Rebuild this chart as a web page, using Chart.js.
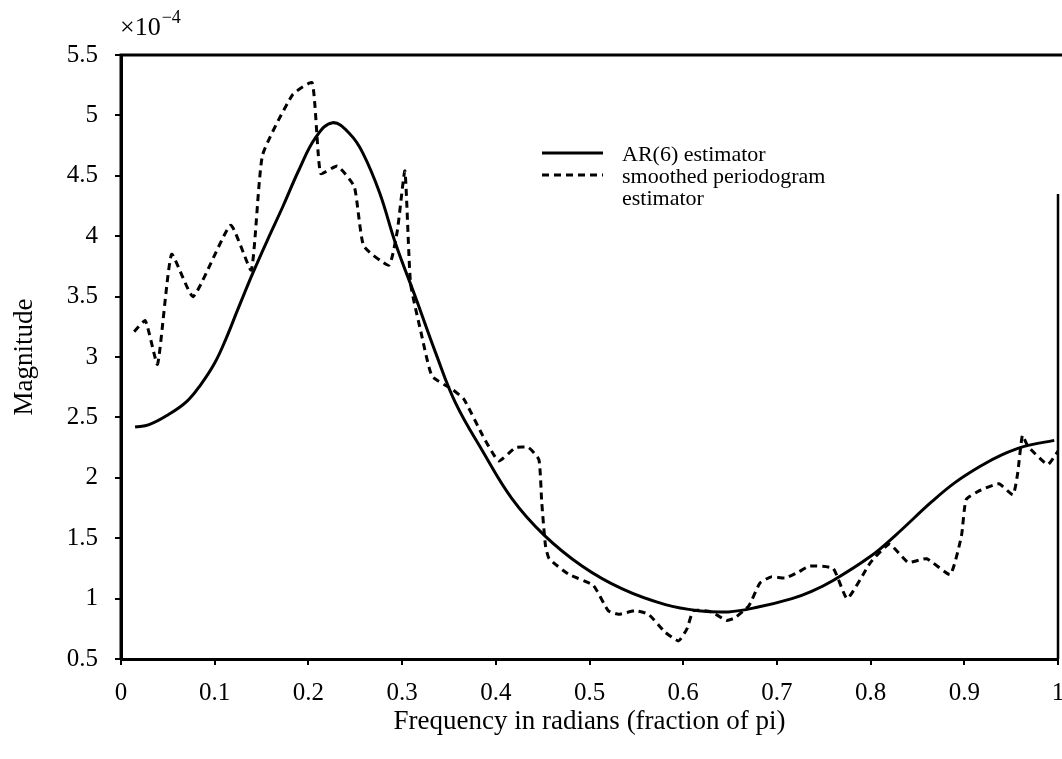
<!DOCTYPE html>
<html>
<head>
<meta charset="utf-8">
<script src="https://cdn.jsdelivr.net/npm/chart.js@4/dist/chart.umd.min.js"></script>
<style>
  html, body { margin: 0; padding: 0; background: #fff; }
  #wrap { width: 1062px; height: 759px; }
</style>
</head>
<body>
<div id="wrap"><canvas id="chart" width="1062" height="759"></canvas></div>
<script>
// --- DATA (magnitude in units of 1e-4) ---
const arX = [0.015, 0.03, 0.05, 0.07, 0.085, 0.1, 0.112, 0.125, 0.141, 0.157, 0.173, 0.19, 0.208, 0.226, 0.245, 0.258, 0.276, 0.293, 0.315, 0.336, 0.357, 0.386, 0.417, 0.451, 0.492, 0.535, 0.581, 0.616, 0.648, 0.68, 0.716, 0.737, 0.76, 0.8, 0.826, 0.865, 0.89, 0.918, 0.94, 0.964, 0.996];
const arY = [2.42, 2.44, 2.52, 2.63, 2.77, 2.95, 3.15, 3.4, 3.7, 3.98, 4.25, 4.55, 4.82, 4.94, 4.84, 4.69, 4.36, 3.94, 3.48, 3.03, 2.62, 2.22, 1.83, 1.53, 1.27, 1.08, 0.95, 0.9, 0.89, 0.93, 1.0, 1.06, 1.15, 1.35, 1.52, 1.8, 1.96, 2.1, 2.19, 2.26, 2.31];

const pgX = [0.014, 0.026, 0.039, 0.054, 0.077, 0.117, 0.139, 0.151, 0.183, 0.204, 0.213, 0.231, 0.249, 0.259, 0.286, 0.295, 0.303, 0.309, 0.32, 0.332, 0.354, 0.366, 0.386, 0.403, 0.421, 0.435, 0.446, 0.449, 0.453, 0.457, 0.478, 0.504, 0.52, 0.531, 0.549, 0.563, 0.581, 0.595, 0.604, 0.611, 0.63, 0.646, 0.655, 0.67, 0.682, 0.694, 0.709, 0.723, 0.735, 0.76, 0.775, 0.8, 0.82, 0.84, 0.86, 0.885, 0.897, 0.902, 0.918, 0.937, 0.952, 0.957, 0.962, 0.968, 0.989, 1.0];
const pgY = [3.21, 3.3, 2.94, 3.85, 3.5, 4.09, 3.72, 4.67, 5.17, 5.27, 4.52, 4.58, 4.41, 3.92, 3.76, 4.05, 4.54, 3.61, 3.21, 2.84, 2.73, 2.65, 2.35, 2.14, 2.25, 2.25, 2.15, 1.8, 1.44, 1.33, 1.2, 1.11, 0.9, 0.87, 0.9, 0.87, 0.72, 0.65, 0.75, 0.9, 0.89, 0.82, 0.84, 0.94, 1.13, 1.18, 1.17, 1.22, 1.27, 1.25, 1.0, 1.3, 1.45, 1.3, 1.33, 1.2, 1.52, 1.82, 1.9, 1.95, 1.86, 2.04, 2.35, 2.26, 2.11, 2.22];

const legendLabels = [['AR(6) estimator'], ['smoothed periodogram', 'estimator']];
const xTitle = 'Frequency in radians (fraction of pi)';
const yTitle = 'Magnitude';

const SERIF = '"Liberation Serif", "DejaVu Serif", serif';

const toPoints = (xs, ys) => xs.map((x, i) => ({ x: x, y: ys[i] }));

// frame, exponent label and two-line legend
const extrasPlugin = {
    id: 'extras',
    afterDraw(chart) {
        const { ctx, chartArea: a, scales } = chart;
        ctx.save();
        ctx.strokeStyle = '#000';
        ctx.lineWidth = 3;
        ctx.beginPath();
        ctx.moveTo(a.left, a.bottom);
        ctx.lineTo(a.left, a.top);
        ctx.lineTo(chart.width, a.top);
        ctx.stroke();
        ctx.lineWidth = 2.5;
        ctx.beginPath();
        ctx.moveTo(a.right, scales.y.getPixelForValue(4.35));
        ctx.lineTo(a.right, a.bottom);
        ctx.stroke();

        // exponent
        ctx.fillStyle = '#000';
        ctx.textBaseline = 'alphabetic';
        ctx.textAlign = 'left';
        ctx.font = '26px ' + SERIF;
        ctx.fillText('\u00d710', a.left - 1, a.top - 20);
        const w = ctx.measureText('\u00d710').width;
        ctx.font = '18px ' + SERIF;
        ctx.fillText('\u22124', a.left + w, a.top - 32);

        // legend
        const lx = 542, lw = 61, rows = [153, 175];
        chart.data.datasets.forEach((ds, i) => {
            ctx.beginPath();
            ctx.lineWidth = ds.borderWidth;
            ctx.setLineDash(ds.borderDash || []);
            ctx.moveTo(lx, rows[i]);
            ctx.lineTo(lx + lw, rows[i]);
            ctx.stroke();
            ctx.setLineDash([]);
            ctx.font = '22px ' + SERIF;
            ctx.textBaseline = 'middle';
            legendLabels[i].forEach((t, j) => ctx.fillText(t, 622, rows[i] + 2 + j * 22));
        });
        ctx.restore();
    }
};

new Chart(document.getElementById('chart'), {
    type: 'line',
    data: {
        datasets: [
            {
                label: 'AR(6) estimator',
                data: toPoints(arX, arY),
                borderColor: '#000',
                borderWidth: 3,
                pointRadius: 0,
                tension: 0.4,
                fill: false
            },
            {
                label: 'smoothed periodogram estimator',
                data: toPoints(pgX, pgY),
                borderColor: '#000',
                borderWidth: 3,
                borderDash: [7, 5],
                pointRadius: 0,
                tension: 0.15,
                fill: false
            }
        ]
    },
    options: {
        responsive: false,
        animation: false,
        layout: { padding: { left: 0, right: 4, top: 55, bottom: 0 } },
        plugins: { legend: { display: false }, tooltip: { enabled: false } },
        scales: {
            x: {
                type: 'linear',
                min: 0, max: 1,
                afterFit: (s) => { s.height = 100; s.paddingLeft = 0; s.paddingRight = 0; },
                ticks: {
                    stepSize: 0.1,
                    color: '#000',
                    padding: 13,
                    maxRotation: 0,
                    font: { family: SERIF, size: 25 },
                    callback: (v) => String(Math.round(v * 10) / 10)
                },
                grid: { drawOnChartArea: false, tickLength: 6, color: '#000', lineWidth: 2 },
                border: { color: '#000', width: 3 },
                title: { display: true, text: xTitle, color: '#000', font: { family: SERIF, size: 27 }, padding: { top: 0, bottom: 21 } }
            },
            y: {
                min: 0.5, max: 5.5,
                afterFit: (s) => { s.width = 121; },
                ticks: {
                    stepSize: 0.5,
                    color: '#000',
                    padding: 17,
                    font: { family: SERIF, size: 25 },
                    callback: (v) => String(Math.round(v * 10) / 10)
                },
                grid: { drawOnChartArea: false, tickLength: 6, color: '#000', lineWidth: 2 },
                border: { color: '#000', width: 3 },
                title: { display: true, text: yTitle, color: '#000', font: { family: SERIF, size: 27 }, padding: { top: 9, bottom: 0 } }
            }
        }
    },
    plugins: [extrasPlugin]
});
</script>
</body>
</html>
